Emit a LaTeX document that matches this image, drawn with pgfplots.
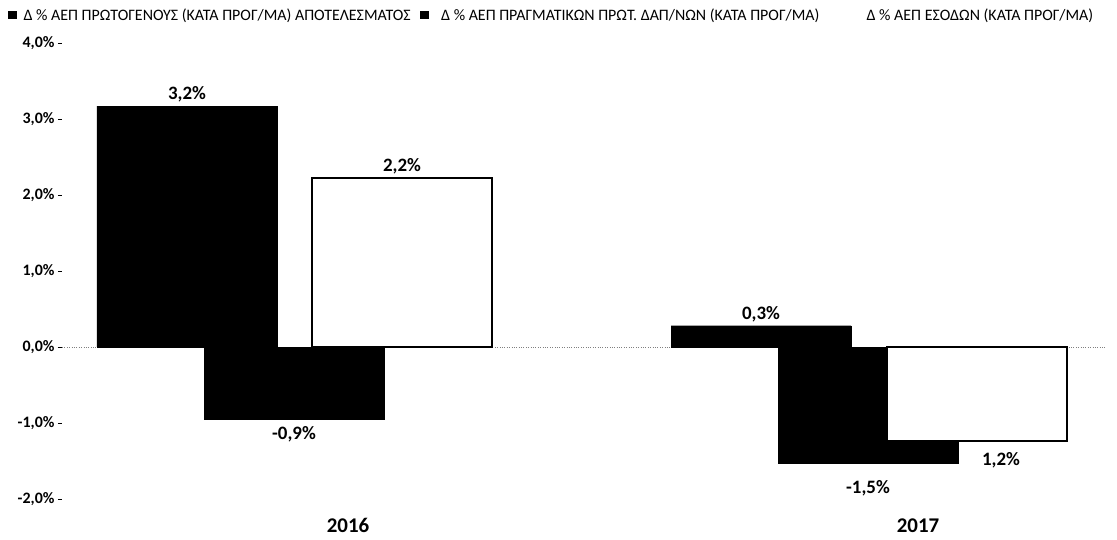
\documentclass[border=0pt]{standalone}
\usepackage{pgfplots}
\pgfplotsset{compat=1.18}
\usepackage{fontspec}
\setmainfont{Carlito}

\begin{document}
\begin{tikzpicture}
\begin{axis}[
	scale only axis,
	width=1043bp, height=456bp,
	xmin=62, xmax=1105,
	ymin=-2, ymax=4,
	clip=false,
	axis lines*=left,
	axis line style={draw=none},
	ytick={-2,-1,0,1,2,3,4},
	yticklabels={{-2,0\%},{-1,0\%},{0,0\%},{1,0\%},{2,0\%},{3,0\%},{4,0\%}},
	yticklabel style={font=\bfseries\fontsize{16}{19}\selectfont},
	ytick style={draw=black, line width=0.6bp},
	major tick length=4bp,
	tick align=outside,
	xtick={348,918},
	xticklabels={2016,2017},
	xticklabel style={font=\bfseries\fontsize{21}{25}\selectfont, yshift=-12bp},
	xtick style={draw=none},
	extra y ticks={0},
	extra y tick labels={},
	extra y tick style={grid=major, major grid style={gray, dotted, line width=0.8bp}, tick style={draw=none}},
	nodes near coords,
	point meta=explicit symbolic,
	nodes near coords style={font=\bfseries\fontsize{19}{22}\selectfont},
	legend columns=3,
	legend style={at={(axis description cs:-0.0518,1.0614)}, anchor=west, draw=none, fill=none,
		font=\fontsize{16}{19}\selectfont, inner sep=0pt, column sep=0bp,
		/tikz/every odd column/.append style={column sep=4bp},
		/tikz/every even column/.append style={column sep=6bp},
		nodes={inner sep=3bp}},
]
% frame of the picture, in the reference's pixels
\coordinate (bbsw) at (axis description cs:-0.05944,-0.08772);
\coordinate (bbne) at (axis description cs:1.01151,1.09430);
% series 1
\addplot[ybar, bar width=180, bar shift=0pt, fill=black, draw=black,
	nodes near coords style={anchor=south},
	legend image code/.code={\fill[black] (0bp,-3.5bp) rectangle (8bp,3.5bp);}]
coordinates {
	(187, 3.17) [3,2\%]
	(761, 0.28) [0,3\%]
};
\addlegendentry{Δ \% ΑΕΠ ΠΡΩΤΟΓΕΝΟΥΣ (ΚΑΤΆ ΠΡΟΓ/ΜΑ) ΑΠΟΤΕΛΕΣΜΑΤΟΣ}
% series 2
\addplot[ybar, bar width=180, bar shift=0pt, fill=black, draw=black,
	nodes near coords style={anchor=north, yshift=-4bp},
	legend image code/.code={\fill[black] (0bp,-3.5bp) rectangle (8bp,3.5bp);}]
coordinates {
	(294, -0.95) [-0,9\%]
};
\addlegendentry{\hspace{6bp}Δ \% ΑΕΠ ΠΡΑΓΜΑΤΙΚΩΝ ΠΡΩΤ. ΔΑΠ/ΝΩΝ (ΚΑΤΆ ΠΡΟΓ/ΜΑ)}
% series 3
\addplot[ybar, bar width=180, bar shift=0pt, fill=white, draw=black, line width=2.2bp,
	nodes near coords style={anchor=south},
	legend image code/.code={\fill[white] (0bp,-3.5bp) rectangle (8bp,3.5bp);}]
coordinates {
	(402, 2.22) [2,2\%]
};
\addlegendentry{\hspace{21bp}Δ \% ΑΕΠ ΕΣΟΔΩΝ (ΚΑΤΆ ΠΡΟΓ/ΜΑ)}
% 2017, series 2 and 3
\addplot[ybar, bar width=180, bar shift=0pt, fill=black, draw=black, forget plot,
	nodes near coords style={anchor=north, yshift=-14bp}]
coordinates {
	(868, -1.53) [-1,5\%]
};
\addplot[ybar, bar width=180, bar shift=0pt, fill=white, draw=black, line width=2.2bp, forget plot,
	nodes near coords style={anchor=north, xshift=24bp, yshift=-7bp}]
coordinates {
	(977, -1.24) [1,2\%]
};
\end{axis}
\pgfresetboundingbox
\path[use as bounding box] (bbsw) rectangle (bbne);
\end{tikzpicture}
\end{document}
